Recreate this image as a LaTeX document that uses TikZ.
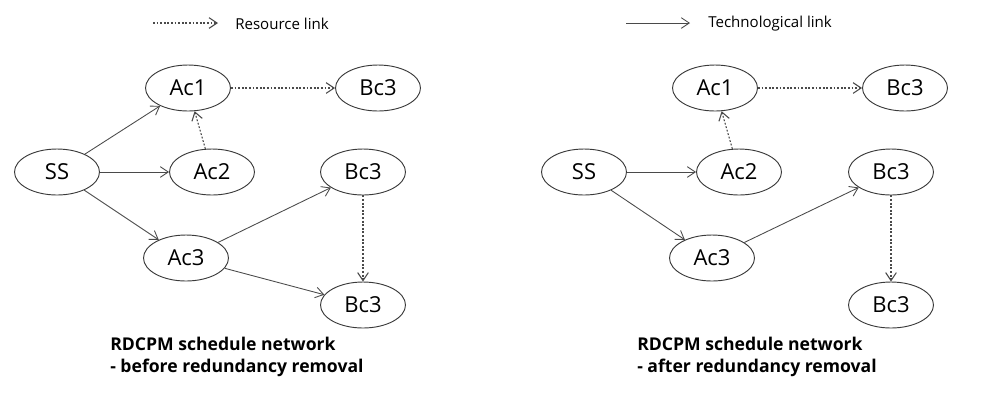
\documentclass[tikz,border=0pt]{standalone}
\usepackage{fontspec}
\setmainfont{Open Sans}
\usetikzlibrary{shapes.geometric, arrows.meta, positioning}
\definecolor{edgegray}{HTML}{4A4A4A}
\definecolor{bordergray}{HTML}{3A3A3A}
\tikzset{
  activity/.style={
    ellipse,
    minimum width=63.75pt, minimum height=34.5pt, inner sep=0pt,
    draw=bordergray, line width=0.7pt, font=\fontsize{16.5}{18}\selectfont,
  },
  caption/.style={
    align=left, anchor=west, inner sep=0pt,
    font=\fontsize{13.2}{16}\selectfont\bfseries,
  },
  legend/.style={anchor=west, inner sep=0pt, font=\fontsize{11.3}{13}\selectfont},
  techlink/.style={-{Straight Barb[length=6pt, width=8pt]}, draw=edgegray, line width=0.65pt},
  reslink/.style={techlink, line width=0.8pt, dash pattern=on 1.4pt off 1.3pt},
}
\begin{document}
\begin{tikzpicture}[x=0.75pt, y=-0.75pt]
  \useasboundingbox (0,0) rectangle (1000,405);

  % legend
  \coordinate (res-a) at (153,23);
  \coordinate (res-b) at (218,23);
  \node[legend] (res-text) at (235,23.5) {Resource link};
  \coordinate (tech-a) at (626,23);
  \coordinate (tech-b) at (690,23);
  \node[legend] (tech-text) at (708,23.5) {Technological link};
  \draw[reslink] (res-a) -- (res-b);
  \draw[techlink] (tech-a) -- (tech-b);

  % before redundancy removal
  \node[activity] (ac1-b) at (188,88) {Ac1};
  \node[activity] (bc3t-b) at (378,88) {Bc3};
  \node[activity] (ss-b) at (57,172) {SS};
  \node[activity] (ac2-b) at (212,172) {Ac2};
  \node[activity] (bc3m-b) at (363,172) {Bc3};
  \node[activity] (ac3-b) at (186,258) {Ac3};
  \node[activity] (bc3d-b) at (363,305) {Bc3};
  \node[caption] (cap-b) at (110,357) {RDCPM schedule network\\- before redundancy removal};

  \draw[techlink] (ss-b) -- (ac1-b);
  \draw[techlink] (ss-b) -- (ac2-b);
  \draw[techlink] (ss-b) -- (ac3-b);
  \draw[reslink] (ac2-b) -- (ac1-b);
  \draw[reslink] (ac1-b) -- (bc3t-b);
  \draw[techlink] (ac3-b) -- (bc3m-b);
  \draw[techlink] (ac3-b) -- (bc3d-b);
  \draw[reslink] (bc3m-b) -- (bc3d-b);

  % after redundancy removal
  \node[activity] (ac1-a) at (715,88) {Ac1};
  \node[activity] (bc3t-a) at (905,88) {Bc3};
  \node[activity] (ss-a) at (584,172) {SS};
  \node[activity] (ac2-a) at (739,172) {Ac2};
  \node[activity] (bc3m-a) at (891,172) {Bc3};
  \node[activity] (ac3-a) at (712,258) {Ac3};
  \node[activity] (bc3d-a) at (891,305) {Bc3};
  \node[caption] (cap-a) at (637,357) {RDCPM schedule network\\- after redundancy removal};

  \draw[techlink] (ss-a) -- (ac2-a);
  \draw[techlink] (ss-a) -- (ac3-a);
  \draw[reslink] (ac2-a) -- (ac1-a);
  \draw[reslink] (ac1-a) -- (bc3t-a);
  \draw[techlink] (ac3-a) -- (bc3m-a);
  \draw[reslink] (bc3m-a) -- (bc3d-a);
\end{tikzpicture}
\end{document}
